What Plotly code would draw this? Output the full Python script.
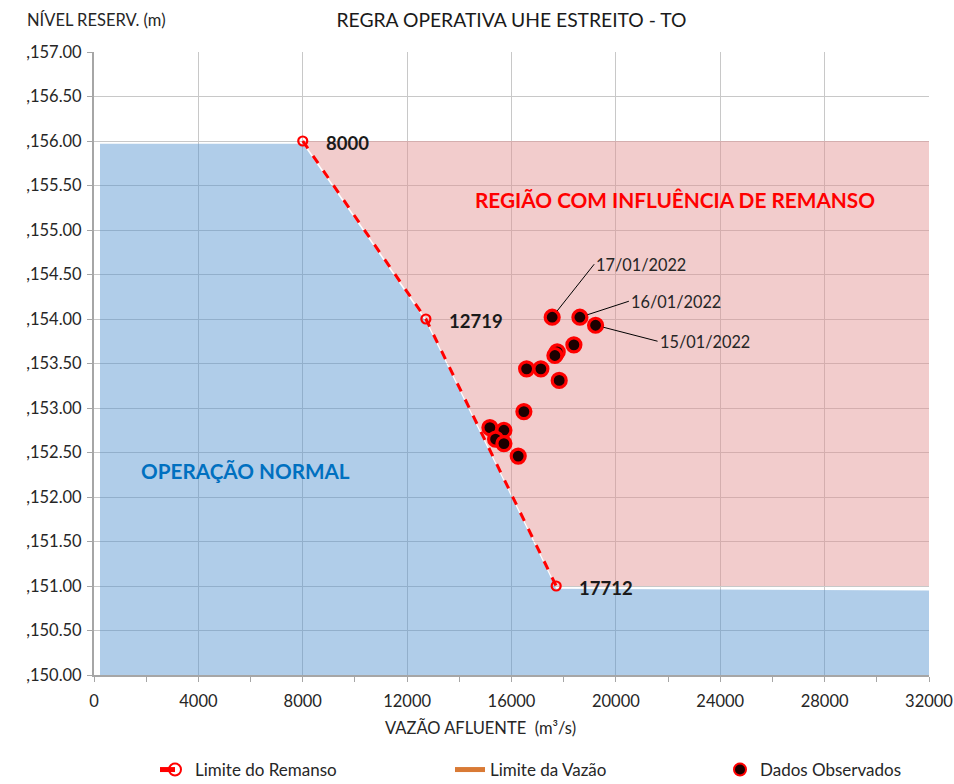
import plotly.graph_objects as go

# ---------------- data ----------------
x_ticks = [0, 4000, 8000, 12000, 16000, 20000, 24000, 28000, 32000]
y_ticks = [150.0, 150.5, 151.0, 151.5, 152.0, 152.5, 153.0, 153.5, 154.0, 154.5, 155.0, 155.5, 156.0, 156.5, 157.0]
y_tick_text = [",%.2f" % v for v in y_ticks]

# Limite do Remanso (curve) - key points
remanso_q = [8000, 12719, 17712]
remanso_h = [156.0, 154.0, 151.0]

# region limits
q_start_normal = 230
q_max = 32000
h_top = 156.0
h_bottom = 150.0
h_remanso_low = 151.0
h_normal_right = 150.95

# Dados Observados
obs_q = [17559, 18621, 19222, 18391, 17752, 17663, 16579, 17126, 17828, 16475, 15172, 15709, 15390, 15709, 16257]
obs_h = [154.02, 154.02, 153.93, 153.71, 153.63, 153.59, 153.44, 153.44, 153.31, 152.96, 152.78, 152.75, 152.65, 152.60, 152.46]
obs_dates = ["17/01/2022", "16/01/2022", "15/01/2022"]
date_offsets = [(42, -53), (49, -16), (62, 16)]

FONT = "Lato, Carlito, Calibri, sans-serif"
TXT = "#262626"
W, H = 954, 784

fig = go.Figure()

# Região com influência de remanso (pink)
pink_q = [remanso_q[0], q_max, q_max] + remanso_q[::-1]
pink_h = [h_top, h_top, h_remanso_low] + remanso_h[::-1]
fig.add_trace(go.Scatter(x=pink_q, y=pink_h, mode="lines", fill="toself",
                         fillcolor="rgba(226,142,142,0.45)", line=dict(width=0),
                         showlegend=False, hoverinfo="skip"))

# Operação normal (blue)
blue_q = [q_start_normal] + remanso_q + [q_max, q_max, q_start_normal]
blue_h = [h_top - 0.03] + [h - 0.03 for h in remanso_h] + [h_normal_right, h_bottom, h_bottom]
fig.add_trace(go.Scatter(x=blue_q, y=blue_h, mode="lines", fill="toself",
                         fillcolor="rgba(79,144,206,0.45)", line=dict(width=0),
                         showlegend=False, hoverinfo="skip"))

# Limite do Remanso
fig.add_trace(go.Scatter(x=remanso_q, y=remanso_h, mode="lines+markers",
                         name="Limite do Remanso", legend="legend",
                         line=dict(color="#FF0000", width=3, dash="dash"),
                         marker=dict(symbol="circle-open", size=9,
                                     color="#FF0000", line=dict(width=2.2, color="#FF0000"))))

# Limite da Vazão (legend only)
fig.add_trace(go.Scatter(x=[None], y=[None], mode="lines", name="Limite da Vazão",
                         legend="legend2", line=dict(color="#D97A35", width=4)))

# Dados Observados
fig.add_trace(go.Scatter(x=obs_q, y=obs_h, mode="markers", name="Dados Observados",
                         legend="legend3",
                         marker=dict(symbol="circle", size=14, color="#1c0000",
                                     line=dict(color="#FF0000", width=3.2))))

annotations = []
for q, h in zip(remanso_q, remanso_h):
    annotations.append(dict(x=q, y=h, xref="x", yref="y", text="<b>%d</b>" % q,
                            showarrow=False, xanchor="left", yanchor="middle",
                            xshift=21, yshift=-2,
                            font=dict(family=FONT, size=18.5, color="#1a1a1a")))

for i, d in enumerate(obs_dates):
    ax, ay = date_offsets[i]
    annotations.append(dict(x=obs_q[i], y=obs_h[i], xref="x", yref="y", text=d,
                            showarrow=True, arrowhead=0, arrowwidth=1, arrowcolor="#000000",
                            ax=ax, ay=ay, standoff=8, xanchor="left", yanchor="middle",
                            font=dict(family=FONT, size=16.3, color=TXT)))

annotations += [
    dict(x=0.696, y=0.763, xref="paper", yref="paper", xanchor="center", yanchor="middle",
         text="<b>REGIÃO COM INFLUÊNCIA DE REMANSO</b>",
         showarrow=False, font=dict(family=FONT, size=20.8, color="#FF0000")),
    dict(x=0.181, y=0.327, xref="paper", yref="paper", xanchor="center", yanchor="middle",
         text="<b>OPERAÇÃO NORMAL</b>",
         showarrow=False, font=dict(family=FONT, size=20.7, color="#0070C0")),
    dict(x=0.0024, y=1.0514, xref="paper", yref="paper", text="NÍVEL RESERV. (m)",
         showarrow=False, xanchor="center", yanchor="middle",
         font=dict(family=FONT, size=16.5, color=TXT)),
    dict(x=0.4623, y=-0.085, xref="paper", yref="paper", text="VAZÃO AFLUENTE&nbsp; (m³/s)",
         showarrow=False, xanchor="center", yanchor="middle",
         font=dict(family=FONT, size=16.5, color=TXT)),
]

legend_common = dict(orientation="h", xref="container", yref="container",
                     xanchor="left", yanchor="top", y=1 - 752 / H,
                     font=dict(family=FONT, size=17, color=TXT),
                     itemsizing="constant", bgcolor="rgba(0,0,0,0)")

fig.update_layout(
    width=W, height=H,
    margin=dict(l=94, r=25, t=52, b=109, autoexpand=False),
    paper_bgcolor="white", plot_bgcolor="white",
    font=dict(family=FONT, size=16, color=TXT),
    title=dict(text="REGRA OPERATIVA UHE ESTREITO - TO", x=0.5, xref="paper", xanchor="center",
               y=1 - 20 / H, yanchor="middle", font=dict(family=FONT, size=19.3, color="#1a1a1a")),
    xaxis=dict(range=[0, 32000], tickvals=x_ticks, ticktext=[str(v) for v in x_ticks],
               ticks="outside", ticklen=5, tickcolor="#a6a6a6", showline=True,
               linecolor="#a6a6a6", linewidth=1.5, showgrid=True, gridcolor="#c8c8c8",
               gridwidth=1, zeroline=False, layer="above traces", ticklabelstandoff=5,
               minor=dict(dtick=2000, ticks="outside", ticklen=5, tickcolor="#a6a6a6", showgrid=False),
               tickfont=dict(family=FONT, size=16.5, color=TXT)),
    yaxis=dict(range=[150, 157], tickvals=y_ticks, ticktext=y_tick_text,
               ticks="outside", ticklen=5, tickcolor="#a6a6a6", showline=True,
               linecolor="#a6a6a6", linewidth=2, showgrid=True, gridcolor="#c8c8c8",
               gridwidth=1, zeroline=False, layer="above traces", ticklabelstandoff=2,
               tickfont=dict(family=FONT, size=16.5, color=TXT)),
    legend=dict(x=155 / W, **legend_common),
    legend2=dict(x=450 / W, **legend_common),
    legend3=dict(x=720 / W, **legend_common),
    annotations=annotations,
    showlegend=True,
)

fig.write_html("out.html", config={"displayModeBar": False},
               post_script="document.body.style.margin='0';document.body.style.overflow='hidden';")
